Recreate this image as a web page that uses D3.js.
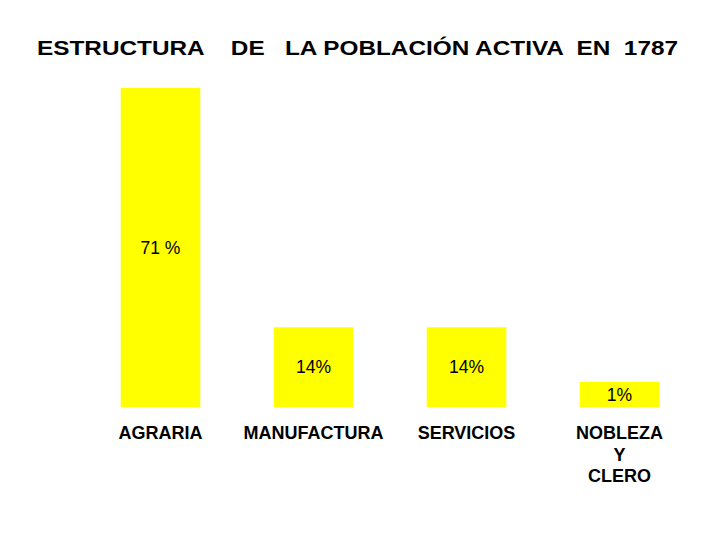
<!DOCTYPE html>
<html>
<head>
<meta charset="utf-8">
<script src="https://cdn.jsdelivr.net/npm/d3@7"></script>
<style>
  body { margin: 0; background: #ffffff; }
  text { font-family: "Liberation Sans", Arial, sans-serif; fill: #000000; }
</style>
</head>
<body>
<svg id="chart"></svg>
<script>
  const title = 'ESTRUCTURA    DE   LA POBLACIÓN ACTIVA  EN  1787';
  const categories = ['AGRARIA', 'MANUFACTURA', 'SERVICIOS', 'NOBLEZA\nY\nCLERO'];
  const values = [71, 14, 14, 1];
  const valueLabels = ['71 %', '14%', '14%', '1%'];

  let width = 720, height = 540,
    svg = d3.select('#chart').attr('width', width).attr('height', height);

  svg.append('rect').attr('width', width).attr('height', height).attr('fill', '#ffffff');

  // the slide is not drawn to scale, so the value axis does not start at 0
  let x = d3.scaleBand().domain(categories).range([84, 696])
    .paddingInner(0.48).paddingOuter(0.24);
  let y = d3.scaleLinear().domain([-5, 71]).range([407, 88]);

  svg.append('text')
    .attr('x', 37)
    .attr('y', 54.5)
    .attr('xml:space', 'preserve')
    .style('white-space', 'pre')
    .attr('font-size', 20)
    .attr('font-weight', 'bold')
    .attr('textLength', 641)
    .attr('lengthAdjust', 'spacingAndGlyphs')
    .text(title);

  let data = categories.map((c, i) => ({ cat: c, value: values[i], label: valueLabels[i] }));

  svg.selectAll('.bar').data(data).enter().append('rect')
    .attr('class', 'bar')
    .attr('x', d => x(d.cat))
    .attr('width', x.bandwidth())
    .attr('y', d => y(d.value))
    .attr('height', d => y(y.domain()[0]) - y(d.value))
    .attr('fill', '#ffff00');

  svg.selectAll('.pct').data(data).enter().append('text')
    .attr('class', 'pct')
    .attr('x', d => x(d.cat) + x.bandwidth() / 2)
    .attr('y', d => (y(d.value) + y(y.domain()[0])) / 2)
    .attr('dy', '0.35em')
    .attr('text-anchor', 'middle')
    .attr('font-size', 17.5)
    .text(d => d.label);

  let cats = svg.selectAll('.cat').data(data).enter().append('text')
    .attr('class', 'cat')
    .attr('text-anchor', 'middle')
    .attr('font-size', 18)
    .attr('font-weight', 'bold');
  cats.selectAll('tspan').data(d => d.cat.split('\n').map(t => ({ t: t, cat: d.cat })))
    .enter().append('tspan')
    .attr('x', d => x(d.cat) + x.bandwidth() / 2)
    .attr('y', (d, i) => 439 + i * 21.5)
    .text(d => d.t);
</script>
</body>
</html>
